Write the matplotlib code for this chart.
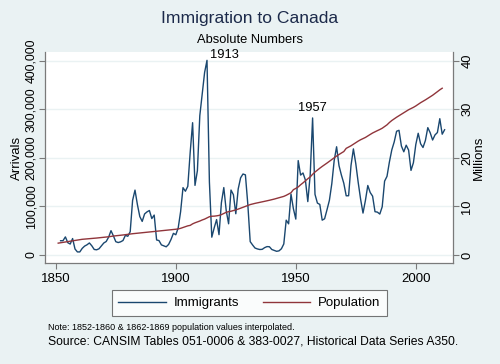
import numpy as np
import matplotlib
matplotlib.use("Agg")
import matplotlib.pyplot as plt
from matplotlib.lines import Line2D

plt.rcParams['font.family'] = ['Liberation Sans', 'DejaVu Sans']

# immigrant arrivals, 1852-2012
imm_years = list(range(1852, 2013))
immigrants = [
    29307, 29464, 37263, 25296, 22544, 33854, 12339, 6300, 6276, 13589,
    18294, 21000, 24779, 18958, 11427, 10666, 12765, 18630, 24706, 27773,
    36578, 50050, 39373, 27382, 25633, 27082, 29807, 40492, 38505, 47991,
    112458, 133624, 103824, 79169, 69152, 84526, 88766, 91600, 75067, 82165,
    30996, 29633, 20829, 18790, 16835, 21716, 31900, 44543, 41681, 55747,
    89102, 138660, 131252, 141465, 211653, 272409, 143326, 173694, 286839, 331288,
    375756, 400870, 150484, 36665, 55914, 72910, 41845, 107698, 138824, 91728,
    64224, 133729, 124164, 84907, 135982, 158886, 166783, 164993, 104806, 27530,
    20591, 14382, 12476, 11277, 11643, 15101, 17244, 16994, 11324, 9329,
    7576, 8504, 12801, 22722, 71719, 64127, 125414, 95217, 73912, 194391,
    164498, 168868, 154227, 109946, 164857, 282164, 124851, 106928, 104111, 71698,
    74586, 93151, 112606, 146758, 194743, 222876, 183974, 164531, 147713, 121900,
    122006, 184200, 218465, 187881, 149429, 114914, 86313, 112096, 143117, 128618,
    121147, 89157, 88239, 84302, 99219, 152098, 161929, 191493, 216452, 232744,
    254817, 256741, 224364, 212504, 226073, 216036, 174195, 189951, 227458, 250638,
    229044, 221349, 235822, 262242, 251640, 236753, 247246, 252179, 280691, 248748,
    257887,
]

# population in millions, 1851-2011
pop_years = list(range(1851, 2012))
population = [
    2.44, 2.52, 2.59, 2.67, 2.75, 2.83, 2.91, 2.99, 3.07, 3.15,
    3.23, 3.27, 3.32, 3.36, 3.41, 3.45, 3.49, 3.54, 3.58, 3.63,
    3.69, 3.75, 3.83, 3.90, 3.95, 4.01, 4.06, 4.12, 4.19, 4.26,
    4.33, 4.38, 4.43, 4.49, 4.54, 4.58, 4.63, 4.68, 4.73, 4.78,
    4.83, 4.88, 4.93, 4.98, 5.03, 5.07, 5.12, 5.18, 5.24, 5.30,
    5.37, 5.49, 5.65, 5.83, 6.00, 6.10, 6.41, 6.63, 6.80, 6.99,
    7.21, 7.39, 7.63, 7.88, 7.98, 8.00, 8.06, 8.15, 8.31, 8.56,
    8.79, 8.92, 9.01, 9.14, 9.29, 9.45, 9.64, 9.84, 10.03, 10.21,
    10.38, 10.51, 10.63, 10.74, 10.85, 10.95, 11.05, 11.15, 11.27, 11.38,
    11.51, 11.65, 11.80, 11.95, 12.07, 12.29, 12.55, 12.82, 13.45, 13.71,
    14.01, 14.46, 14.85, 15.29, 15.70, 16.08, 16.61, 17.08, 17.48, 17.87,
    18.24, 18.58, 18.93, 19.29, 19.64, 20.02, 20.38, 20.70, 21.00, 21.30,
    21.96, 22.22, 22.49, 22.81, 23.14, 23.45, 23.73, 23.96, 24.20, 24.52,
    24.82, 25.12, 25.37, 25.61, 25.84, 26.10, 26.45, 26.80, 27.28, 27.69,
    28.04, 28.37, 28.68, 29.00, 29.30, 29.61, 29.91, 30.16, 30.40, 30.69,
    31.02, 31.36, 31.64, 31.94, 32.25, 32.57, 32.89, 33.25, 33.63, 34.01,
    34.34,
]

peak_years = [1913, 1957]

bg = '#EAF2F3'
navy = '#1A476F'
maroon = '#90353B'
axcol = '#7a7a7a'

fig = plt.figure(figsize=(5, 3.64), dpi=100, facecolor=bg)
ax = fig.add_axes([45/500, 1-263/364, 408/500, 211/364])
ax.set_facecolor('white')

ax.plot(imm_years, immigrants, color=navy, lw=1.0, zorder=3)
ax.set_xlim(1845.5, 2015.5)
ax.set_ylim(-16500, 418000)
ax.set_yticks([0, 100000, 200000, 300000, 400000])
ax.set_yticklabels(['0', '100,000', '200,000', '300,000', '400,000'],
                   rotation=90, va='center', fontsize=8.9)
ax.set_xticks([1850, 1900, 1950, 2000])
ax.tick_params(axis='x', labelsize=9.5, pad=3)
ax.tick_params(axis='y', pad=1.5)
ax.grid(axis='y', color=bg, lw=1.0)
ax.set_axisbelow(True)
ax.set_ylabel('Arrivals', fontsize=9.5, labelpad=2)

ax2 = ax.twinx()
ax2.plot(pop_years, population, color=maroon, lw=1.0, zorder=3)
ax2.set_ylim(-1.65, 41.8)
ax2.set_yticks([0, 10, 20, 30, 40])
ax2.set_yticklabels(['0', '10', '20', '30', '40'], rotation=90, va='center', fontsize=9.3)
ax2.tick_params(axis='y', pad=2)
ax2.set_ylabel('Millions', fontsize=9.5, labelpad=0)

for a in (ax, ax2):
    a.spines['top'].set_visible(False)
    for s in ('left', 'right', 'bottom'):
        a.spines[s].set_color(axcol)
        a.spines[s].set_linewidth(0.9)
    a.tick_params(which='both', color=axcol, length=4, width=0.8)
ax2.spines['left'].set_visible(False)
ax2.spines['bottom'].set_visible(False)
ax.spines['right'].set_visible(False)

# peak labels
for yr in peak_years:
    val = immigrants[imm_years.index(yr)]
    if yr == 1913:
        ax.annotate(str(yr), (yr, val), xytext=(2, 4), textcoords='offset points',
                    ha='left', va='center', fontsize=9.3)
    else:
        ax.annotate(str(yr), (yr, val), xytext=(0, 7), textcoords='offset points',
                    ha='center', va='center', fontsize=9.3)

fig.text(0.5, 1-19/364, 'Immigration to Canada', ha='center', va='center',
         fontsize=12.6, color='#1c2a4a')
fig.text(0.5, 1-40/364, 'Absolute Numbers', ha='center', va='center', fontsize=9.3)

handles = [Line2D([], [], color=navy, lw=1.0), Line2D([], [], color=maroon, lw=1.0)]
leg = fig.legend(handles, ['Immigrants', 'Population'], loc='center',
                 bbox_to_anchor=(249.5/500, 1-303/364), ncol=2, fontsize=9.5,
                 frameon=True, fancybox=False, handlelength=3.6,
                 columnspacing=1.8, handletextpad=0.6, borderpad=0.5,
                 borderaxespad=0)
leg.get_frame().set_edgecolor('#555555')
leg.get_frame().set_linewidth(0.8)

fig.text(48/500, 1-327/364, 'Note: 1852-1860 & 1862-1869 population values interpolated.',
         ha='left', va='center', fontsize=6.5)
fig.text(48/500, 1-342/364, 'Source: CANSIM Tables 051-0006 & 383-0027, Historical Data Series A350.',
         ha='left', va='center', fontsize=8.7)

fig.savefig('out.png', dpi=100, facecolor=bg)
